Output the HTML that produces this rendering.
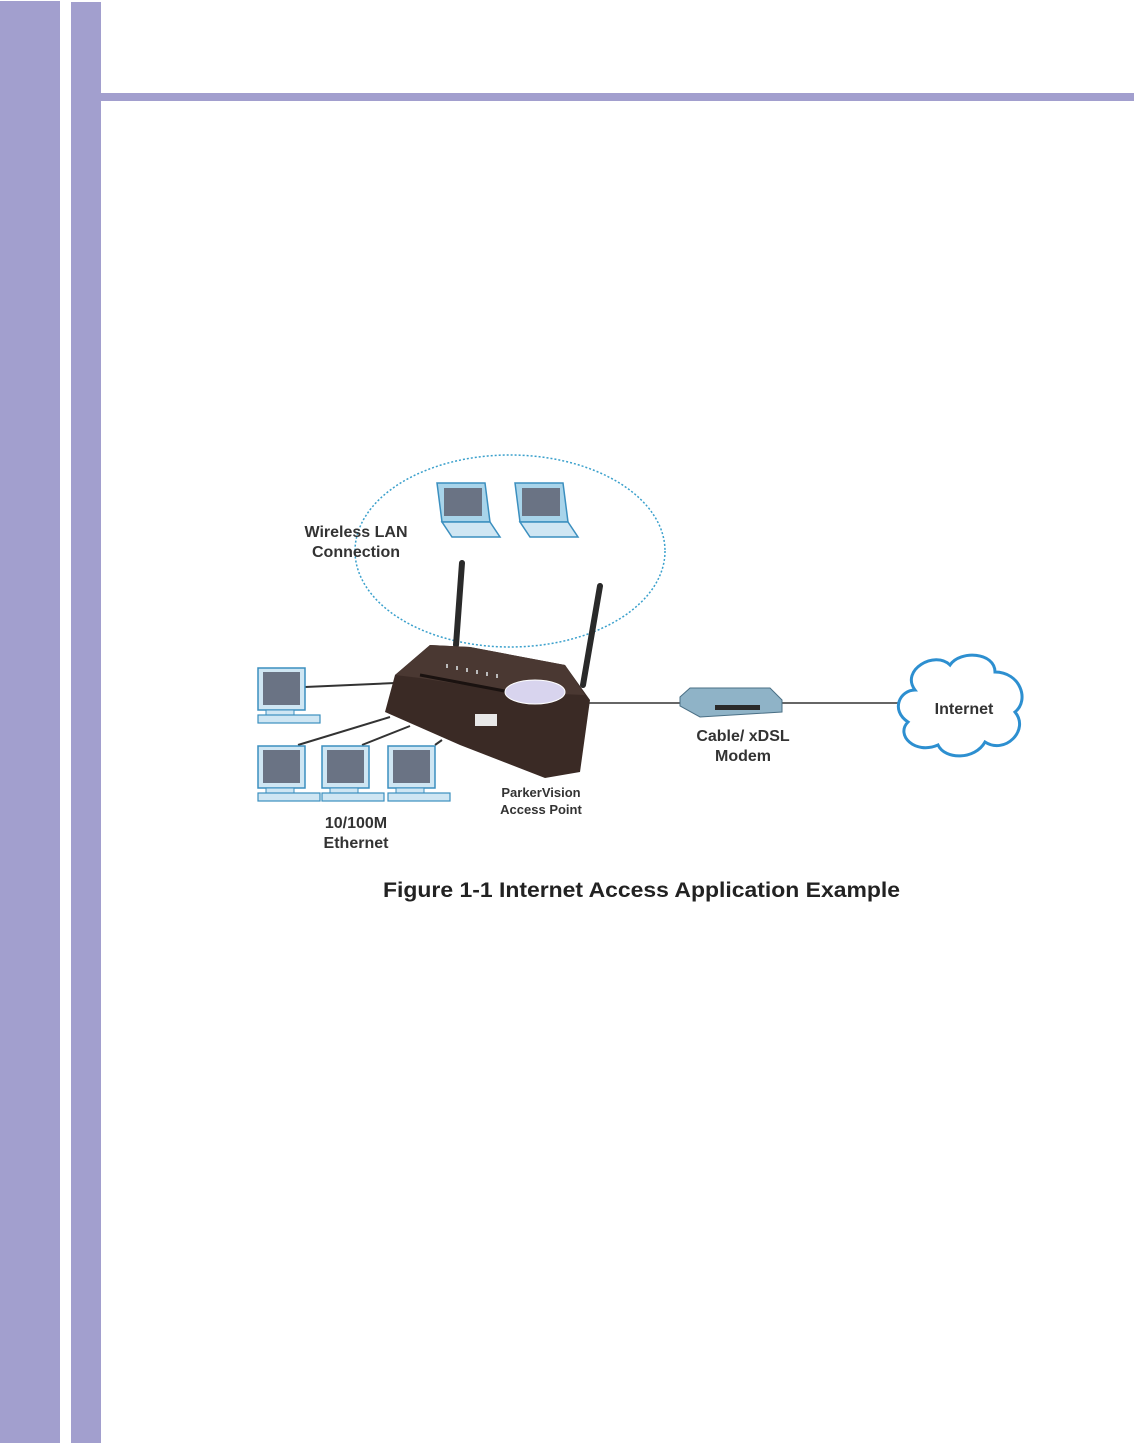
<!DOCTYPE html>
<html><head><meta charset="utf-8"><style>
html,body{margin:0;padding:0;background:#fff;width:1134px;height:1443px;overflow:hidden}
svg{display:block}
</style></head><body>
<svg width="1134" height="1443" viewBox="0 0 1134 1443" xmlns="http://www.w3.org/2000/svg" font-family="Liberation Sans, sans-serif">
<rect x="0" y="1" width="60" height="1442" fill="#a29fce"/>
<rect x="71" y="2" width="30" height="1441" fill="#a29fce"/>
<rect x="101" y="93" width="1033" height="8" fill="#a29fce"/>

<ellipse cx="510" cy="551" rx="155" ry="96" fill="none" stroke="#3aa0cc" stroke-width="1.5" stroke-dasharray="2,2"/>

<g>
<polygon points="437,483 485,483 490,522 442,522" fill="#a8d4ea" stroke="#3b8fbf" stroke-width="1.5"/>
<rect x="444" y="488" width="38" height="28" fill="#6a7384"/>
<polygon points="442,522 490,522 500,537 452,537" fill="#cfe6f3" stroke="#3b8fbf" stroke-width="1.5"/>
<polygon points="515,483 563,483 568,522 520,522" fill="#a8d4ea" stroke="#3b8fbf" stroke-width="1.5"/>
<rect x="522" y="488" width="38" height="28" fill="#6a7384"/>
<polygon points="520,522 568,522 578,537 530,537" fill="#cfe6f3" stroke="#3b8fbf" stroke-width="1.5"/>
</g>

<g stroke="#333" stroke-width="2" fill="none">
<line x1="305" y1="687" x2="395" y2="683"/>
<line x1="298" y1="745" x2="390" y2="717"/>
<line x1="362" y1="745" x2="410" y2="726"/>
<line x1="435" y1="745" x2="442" y2="740"/>
</g>
<line x1="585" y1="703" x2="685" y2="703" stroke="#666" stroke-width="2"/>
<line x1="780" y1="703" x2="903" y2="703" stroke="#666" stroke-width="2"/>

<g id="pc">
<rect x="258" y="668" width="47" height="42" fill="#cfe6f3" stroke="#3b8fbf" stroke-width="1.5"/>
<rect x="263" y="672" width="37" height="33" fill="#6a7384"/>
<rect x="266" y="710" width="28" height="7" fill="#cfe6f3" stroke="#3b8fbf" stroke-width="1"/>
<rect x="258" y="715" width="62" height="8" fill="#cfe6f3" stroke="#3b8fbf" stroke-width="1.2"/>
</g>
<use href="#pc" x="0" y="78"/>
<use href="#pc" x="64" y="78"/>
<use href="#pc" x="130" y="78"/>

<line x1="456" y1="645" x2="462" y2="563" stroke="#2a2a2a" stroke-width="6" stroke-linecap="round"/>
<line x1="583" y1="685" x2="600" y2="586" stroke="#2a2a2a" stroke-width="6" stroke-linecap="round"/>

<polygon points="385,712 395,675 430,645 470,647 565,665 590,700 580,772 545,778 460,745" fill="#3a2a25"/>
<polygon points="395,675 430,645 470,647 565,665 585,695 510,692 420,678" fill="#4a3832"/>
<path d="M420,675 L510,692" stroke="#1a1210" stroke-width="3"/>
<ellipse cx="535" cy="692" rx="30" ry="12" fill="#d8d4ee" stroke="#fff"/>
<rect x="475" y="714" width="22" height="12" fill="#e8e8e8"/>
<g fill="#bbb"><rect x="446" y="664" width="2" height="4"/><rect x="456" y="666" width="2" height="4"/><rect x="466" y="668" width="2" height="4"/><rect x="476" y="670" width="2" height="4"/><rect x="486" y="672" width="2" height="4"/><rect x="496" y="674" width="2" height="4"/></g>

<polygon points="680,697 690,688 770,688 782,700 782,712 700,717 680,706" fill="#8fb3c7" stroke="#4a6f85"/>
<rect x="715" y="705" width="45" height="5" fill="#2a2a2a"/>

<path d="M915,690 C900,670 935,650 950,665 C960,650 995,652 995,672 C1020,672 1030,700 1015,712 C1030,730 1005,755 985,742 C975,760 945,760 938,745 C915,755 895,735 908,722 C890,710 900,690 915,690 Z" fill="#fff" stroke="#2d8fd0" stroke-width="3"/>

<g font-weight="bold" fill="#333" text-anchor="middle">
<text x="356" y="537" font-size="16">Wireless LAN</text>
<text x="356" y="557" font-size="16">Connection</text>
<text x="356" y="828" font-size="16">10/100M</text>
<text x="356" y="848" font-size="16">Ethernet</text>
<text x="541" y="797" font-size="13">ParkerVision</text>
<text x="541" y="814" font-size="13">Access Point</text>
<text x="743" y="741" font-size="16">Cable/ xDSL</text>
<text x="743" y="761" font-size="16">Modem</text>
<text x="964" y="714" font-size="16">Internet</text>
</g>
<text x="383" y="897" font-size="21" font-weight="bold" fill="#222" textLength="517" lengthAdjust="spacingAndGlyphs">Figure 1-1 Internet Access Application Example</text>
</svg>
</body></html>
